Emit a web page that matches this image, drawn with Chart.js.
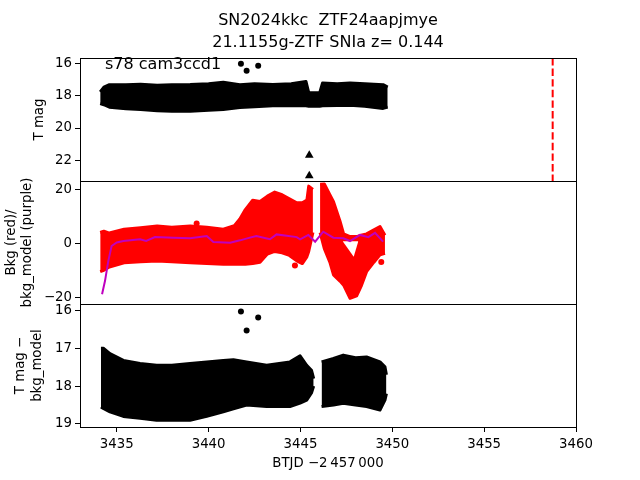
<!DOCTYPE html>
<html>
<head>
<meta charset="utf-8">
<script src="https://cdn.jsdelivr.net/npm/chart.js@4.4.1/dist/chart.umd.min.js"></script>
<style>
  html, body { margin: 0; padding: 0; background: #fff; }
  #wrap { width: 640px; height: 480px; }
</style>
</head>
<body>
<div id="wrap"><canvas id="lc"></canvas></div>
<script>
const titleLines = ["SN2024kkc  ZTF24aapjmye", "21.1155g-ZTF SNIa z= 0.144"];
const sectorLabel = "s78 cam3ccd1";
const xLabel = "BTJD \u22122\u2009457\u2009000";
const xTicks = [3435, 3440, 3445, 3450, 3455, 3460];
const magTicks = [16, 18, 20, 22];
const bkgTicks = [-20, 0, 20];
const diffTicks = [16, 17, 18, 19];

// top panel: envelope of the T mag points (bright edge / faint edge)
const magDays   = [3434.1, 3434.3, 3434.6, 3435.5, 3436.3, 3437.2, 3438.0, 3439.0, 3440.0, 3440.8, 3441.7, 3442.5, 3443.5, 3444.5, 3445.3, 3445.45, 3446.05, 3446.2, 3447.0, 3447.7, 3448.5, 3449.5, 3449.75];
const magBright = [17.75, 17.45, 17.3, 17.3, 17.27, 17.33, 17.3, 17.29, 17.25, 17.15, 17.3, 17.25, 17.29, 17.25, 17.1, 17.8, 17.8, 17.2, 17.25, 17.2, 17.25, 17.3, 17.45];
const magFaint  = [18.48, 18.55, 18.7, 18.8, 18.85, 18.92, 18.95, 18.95, 18.9, 18.85, 18.72, 18.68, 18.62, 18.62, 18.62, 18.65, 18.65, 18.62, 18.6, 18.58, 18.65, 18.78, 18.7];
const magOutDays = [3441.76, 3442.07, 3442.7];
const magOutVals = [16.0, 16.44, 16.12];
const limitDays = [3445.48, 3445.48];
const limitVals = [21.7, 22.98];
const peakDay = 3458.73;

// middle panel: background flux envelope, hole inside the dip, model line
const bkgDays = [3434.1, 3434.3, 3434.6, 3435.4, 3436.3, 3437.2, 3438.0, 3439.0, 3439.9, 3440.8, 3441.4, 3441.7, 3442.0, 3442.4, 3442.8, 3443.2, 3443.6, 3444.0, 3444.4, 3444.8, 3445.1, 3445.35, 3445.45, 3445.68, 3445.9, 3446.07, 3446.3, 3446.6, 3446.8, 3447.15, 3447.35, 3447.7, 3448.06, 3448.3, 3448.6, 3449.0, 3449.33, 3449.6];
const bkgHigh = [4.0, 4.5, 3.8, 5.2, 5.8, 6.4, 6.0, 6.4, 6.0, 5.2, 6.5, 9.0, 12.5, 16.0, 15.5, 17.5, 19.0, 18.0, 16.5, 15.0, 15.0, 16.0, 21.2, 20.0, null, 21.9, 22.0, 18.0, 15.4, 8.3, 3.5, 2.5, 2.5, 3.0, 3.5, 5.0, 6.2, 3.0];
const bkgLow  = [-10.5, -10.0, -8.8, -7.2, -6.8, -6.6, -6.8, -7.2, -7.5, -7.8, -7.8, -7.8, -7.8, -7.5, -7.0, -4.0, -3.0, -3.5, -4.5, -6.5, -7.5, -5.0, -3.0, 4.0, null, 4.0, -2.0, -7.0, -11.7, -14.0, -15.5, -20.4, -19.5, -16.0, -10.5, -7.0, -4.3, -3.7];
const holeDays = [3447.3, 3447.9, 3448.15];
const holeTop = [0.8, 0.8, 0.8];
const holeBottom = [0.8, -5.0, 0.8];
const bkgOutDays = [3439.35, 3444.7, 3449.4];
const bkgOutVals = [7.3, -8.2, -6.9];
const modelDays = [3434.2, 3434.36, 3434.54, 3434.72, 3435.0, 3435.36, 3436.27, 3436.6, 3437.08, 3438.08, 3438.99, 3439.9, 3440.26, 3441.17, 3441.71, 3442.25, 3442.6, 3443.34, 3443.7, 3444.8, 3444.98, 3445.43, 3445.8, 3446.24, 3446.79, 3447.33, 3447.7, 3448.24, 3448.7, 3449.06, 3449.5];
const modelVals = [-18.9, -14.0, -6.6, -1.0, 0.3, 0.85, 1.5, 0.85, 2.3, 2.1, 1.85, 2.7, 0.5, 0.2, 1.1, 2.1, 2.7, 1.5, 3.3, 2.3, 1.5, 3.1, 0.6, 4.3, 2.1, 1.85, 0.85, 3.1, 2.3, 3.9, 0.6];

// bottom panel: T mag - bkg_model envelope (error bars included)
const diffDays   = [3434.14, 3434.27, 3434.63, 3435.36, 3436.27, 3437.17, 3438.0, 3438.99, 3439.9, 3440.8, 3441.35, 3442.07, 3443.16, 3444.43, 3444.98, 3445.34, 3445.6, 3445.72, 3446.0, 3446.15, 3446.8, 3447.33, 3448.0, 3448.6, 3449.33, 3449.6, 3449.68];
const diffBright = [17.0, 17.0, 17.14, 17.32, 17.4, 17.45, 17.45, 17.4, 17.36, 17.32, 17.3, 17.36, 17.45, 17.36, 17.2, 17.45, 17.58, 17.8, null, 17.36, 17.27, 17.18, 17.25, 17.23, 17.36, 17.49, 17.7];
const diffFaint  = [18.55, 18.59, 18.68, 18.8, 18.85, 18.9, 18.9, 18.9, 18.8, 18.68, 18.6, 18.5, 18.54, 18.54, 18.45, 18.37, 18.18, 18.0, null, 18.54, 18.5, 18.45, 18.5, 18.54, 18.63, 18.37, 18.2];
const diffOutDays = [3441.76, 3442.07, 3442.7];
const diffOutVals = [16.03, 16.53, 16.19];

const yTitles = {
  yMag: { lines: ["T mag"], x: [40] },
  yBkg: { lines: ["Bkg (red)/", "bkg_model (purple)"], x: [12, 28] },
  yDiff: { lines: ["T mag \u2212", "bkg_model"], x: [21, 38] },
};

const FONT = "DejaVu Sans";
const RED = "#ff0000";
const PURPLE = "#bf00bf";

const pts = (days, vals) => days.map((d, i) => ({ x: d, y: vals[i] }));

// two edge lines, the second filled back to the first
const band = (days, hi, lo, color, axis, order) => [
  { data: pts(days, hi), yAxisID: axis, order, borderColor: color, backgroundColor: color, borderWidth: 3, borderJoinStyle: "round", pointRadius: 0, showLine: true, fill: false },
  { data: pts(days, lo), yAxisID: axis, order, borderColor: color, backgroundColor: color, borderWidth: 3, borderJoinStyle: "round", pointRadius: 0, showLine: true, fill: "-1" },
];

const dots = (days, vals, color, axis, style, r) => ({
  data: pts(days, vals), yAxisID: axis, showLine: false, order: 1,
  pointStyle: style || "circle", pointRadius: r || 3, pointBorderWidth: 0,
  backgroundColor: color, borderColor: color,
});

const datasets = [
  ...band(magDays, magBright, magFaint, "#000", "yMag", 5),
  dots(magOutDays, magOutVals, "#000", "yMag"),
  dots(limitDays, limitVals, "#000", "yMag", "triangle", 5),
  { data: [{ x: peakDay, y: 15.64 }, { x: peakDay, y: 23.3 }], yAxisID: "yMag", showLine: true, pointRadius: 0, order: 0,
    borderColor: RED, borderWidth: 2, borderDash: [7.4, 3.2] },
  ...band(bkgDays, bkgHigh, bkgLow, RED, "yBkg", 5),
  ...band(holeDays, holeTop, holeBottom, "#fff", "yBkg", 3).map((d) => ({ ...d, borderWidth: 0 })),
  dots(bkgOutDays, bkgOutVals, RED, "yBkg"),
  { data: pts(modelDays, modelVals), yAxisID: "yBkg", showLine: true, pointRadius: 0, order: 0, borderColor: PURPLE, borderWidth: 2 },
  ...band(diffDays, diffBright, diffFaint, "#000", "yDiff", 5),
  dots(diffOutDays, diffOutVals, "#000", "yDiff"),
];

const yAxis = (min, max, reverse, ticks) => ({
  type: "linear", position: "left", stack: "panels", stackWeight: 1,
  min, max, reverse,
  afterBuildTicks: (ax) => { ax.ticks = ticks.map((v) => ({ value: v })); },
  afterFit: (ax) => { ax.width = 80; },
  ticks: { color: "#000", font: { family: FONT, size: 13.3 }, padding: 3, callback: (v) => String(v).replace("-", "\u2212") },
  grid: { drawOnChartArea: false, color: "#000", tickLength: 5, tickWidth: 1 },
  border: { display: false },
});

const frames = {
  id: "frames",
  afterDatasetsDraw(chart) {
    const { ctx, chartArea } = chart;
    ctx.save();
    ctx.strokeStyle = "#000";
    ctx.lineWidth = 1;
    for (const id of ["yMag", "yBkg", "yDiff"]) {
      const s = chart.scales[id];
      ctx.strokeRect(Math.round(chartArea.left) + 0.5, Math.round(s.top) + 0.5,
        Math.round(chartArea.right - chartArea.left), Math.round(s.bottom - s.top));
    }
    ctx.restore();
  },
  afterDraw(chart) {
    const { ctx, chartArea } = chart;
    ctx.save();
    ctx.fillStyle = "#000";
    ctx.textAlign = "center";
    ctx.textBaseline = "middle";
    ctx.font = `16px "${FONT}"`;
    const cx = (chartArea.left + chartArea.right) / 2;
    ctx.fillText(titleLines[0], cx, 21);
    ctx.fillText(titleLines[1], cx, 43);
    ctx.textAlign = "left";
    ctx.fillText(sectorLabel, 105, 65);
    ctx.font = `13.3px "${FONT}"`;
    ctx.textAlign = "center";
    for (const id in yTitles) {
      const s = chart.scales[id];
      const cy = (s.top + s.bottom) / 2;
      yTitles[id].lines.forEach((line, i) => {
        ctx.save();
        ctx.translate(yTitles[id].x[i], cy);
        ctx.rotate(-Math.PI / 2);
        ctx.fillText(line, 0, 0);
        ctx.restore();
      });
    }
    ctx.restore();
  },
};

new Chart(document.getElementById("lc"), {
  type: "scatter",
  data: { datasets },
  options: {
    responsive: true,
    maintainAspectRatio: false,
    animation: false,
    layout: { padding: { left: 0, right: 64, top: 58, bottom: 0 } },
    plugins: { legend: { display: false }, tooltip: { enabled: false } },
    scales: {
      x: {
        type: "linear", min: 3433, max: 3460,
        afterBuildTicks: (ax) => { ax.ticks = xTicks.map((v) => ({ value: v })); },
        afterFit: (ax) => { ax.height = 53; },
        ticks: { color: "#000", font: { family: FONT, size: 13.3 }, padding: 5, maxRotation: 0, callback: (v) => String(v) },
        grid: { drawOnChartArea: false, color: "#000", tickLength: 5, tickWidth: 1 },
        border: { display: false },
        title: { display: true, text: xLabel, color: "#000", font: { family: FONT, size: 13.3 }, padding: { top: 4, bottom: 8 } },
      },
      yDiff: yAxis(15.83, 19.08, true, diffTicks),
      yBkg: yAxis(-22.5, 23.1, false, bkgTicks),
      yMag: yAxis(15.64, 23.3, true, magTicks),
    },
  },
  plugins: [frames],
});
</script>
</body>
</html>
